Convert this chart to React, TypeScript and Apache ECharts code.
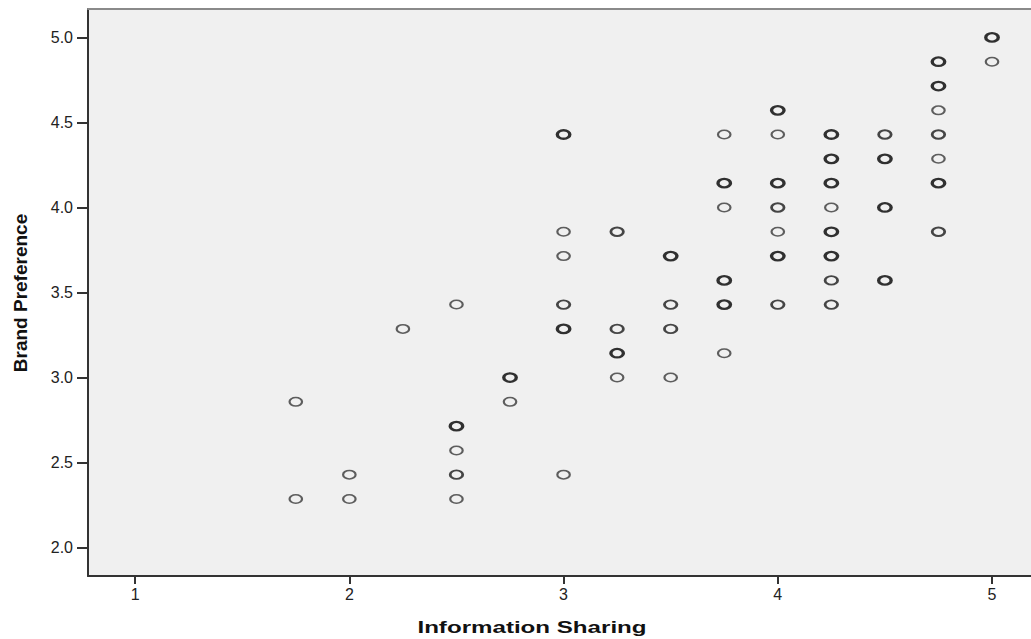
import React, { useEffect, useRef } from "react";
import * as echarts from "echarts";

const xTicks = [1, 2, 3, 4, 5];
const yTicks = [2.0, 2.5, 3.0, 3.5, 4.0, 4.5, 5.0];

// [Information Sharing, Brand Preference] — single cases
const singlePoints: [number, number][] = [
  [1.75, 2.857], [1.75, 2.286], [2, 2.429], [2, 2.286], [2.25, 3.286],
  [2.5, 3.429], [2.5, 2.571], [2.5, 2.286], [2.75, 2.857], [3, 3.857],
  [3, 3.714], [3, 2.429], [3.25, 3.0], [3.5, 3.0], [3.75, 4.429],
  [3.75, 4.0], [3.75, 3.143], [4, 4.429], [4, 3.857], [4.25, 4.0],
  [4.75, 4.571], [4.75, 4.286], [5, 4.857],
];

// a few overlapping cases
const doublePoints: [number, number][] = [
  [2.5, 2.429], [3, 3.429], [3.25, 3.857], [3.25, 3.286], [3.5, 3.429],
  [3.5, 3.286], [4, 4.0], [4, 3.429], [4.25, 3.571], [4.25, 3.429],
  [4.5, 4.429], [4.75, 4.429], [4.75, 3.857],
];

// many overlapping cases
const heavyPoints: [number, number][] = [
  [2.5, 2.714], [2.75, 3.0], [3, 4.429], [3, 3.286], [3.25, 3.143],
  [3.5, 3.714], [3.75, 4.143], [3.75, 3.571], [3.75, 3.429], [4, 4.571],
  [4, 4.143], [4, 3.714], [4.25, 4.429], [4.25, 4.286], [4.25, 4.143],
  [4.25, 3.857], [4.25, 3.714], [4.5, 4.286], [4.5, 4.0], [4.5, 3.571],
  [4.75, 4.857], [4.75, 4.714], [4.75, 4.143], [5, 5.0],
];

const ELLIPSE = "path://M0,5A7,5 0 1,1 14,5A7,5 0 1,1 0,5Z";

const mkSeries = (data: [number, number][], color: string, width: number) => ({
  type: "scatter",
  data,
  symbol: ELLIPSE,
  symbolSize: [12.5, 8.5],
  itemStyle: { color: "rgba(0,0,0,0)", borderColor: color, borderWidth: width },
  emphasis: { disabled: true },
  silent: true,
});

export default function App() {
  const ref = useRef<HTMLDivElement>(null);
  useEffect(() => {
    if (!ref.current) return;
    const chart = echarts.init(ref.current, null, { renderer: "svg" });
    const xMin = 0.78, xMax = 5.182, yMin = 1.833, yMax = 5.167;
    chart.setOption({
      animation: false,
      backgroundColor: "#ffffff",
      grid: {
        show: true, left: 88, right: 0, top: 9, bottom: 63,
        backgroundColor: "#f0f0f0", borderWidth: 0,
      },
      xAxis: [
        {
          type: "value", min: xMin, max: xMax, position: "bottom",
          axisLine: { show: true, onZero: false, lineStyle: { color: "#333", width: 2 } },
          axisTick: { show: true, length: 8, customValues: xTicks, lineStyle: { color: "#333", width: 2 } },
          axisLabel: {
            customValues: xTicks, margin: 10, color: "#222", fontSize: 16,
            fontFamily: "Liberation Sans", formatter: (v: number) => String(v),
          },
          splitLine: { show: false },
        },
        {
          type: "value", min: xMin, max: xMax, position: "top",
          axisLine: { show: true, onZero: false, lineStyle: { color: "#8a8a8a", width: 2 } },
          axisTick: { show: false }, axisLabel: { show: false }, splitLine: { show: false },
        },
      ],
      yAxis: {
        type: "value", min: yMin, max: yMax,
        axisLine: { show: true, onZero: false, lineStyle: { color: "#333", width: 2 } },
        axisTick: { show: true, length: 11, customValues: yTicks, lineStyle: { color: "#333", width: 2 } },
        axisLabel: {
          customValues: yTicks, margin: 15, color: "#222", fontSize: 16,
          fontFamily: "Liberation Sans", formatter: (v: number) => v.toFixed(1),
        },
        splitLine: { show: false },
      },
      graphic: [
        {
          type: "text", x: 532, y: 627, scaleX: 1.42, silent: true,
          style: {
            text: "Information Sharing", fontFamily: "Liberation Sans", fontWeight: "bold",
            fontSize: 17, fill: "#111", align: "center", verticalAlign: "middle",
          },
        },
        {
          type: "text", x: 20, y: 293, rotation: Math.PI / 2, silent: true,
          style: {
            text: "Brand Preference", fontFamily: "Liberation Sans", fontWeight: "bold",
            fontSize: 19, fill: "#111", align: "center", verticalAlign: "middle",
          },
        },
      ],
      series: [
        mkSeries(singlePoints, "#383838", 1.8),
        mkSeries(doublePoints, "#1a1a1a", 2.3),
        mkSeries(heavyPoints, "#000", 2.8),
      ],
    });
    return () => chart.dispose();
  }, []);
  return (
    <div
      ref={ref}
      style={{ position: "fixed", left: 0, top: 0, width: 1031, height: 639 }}
    />
  );
}
